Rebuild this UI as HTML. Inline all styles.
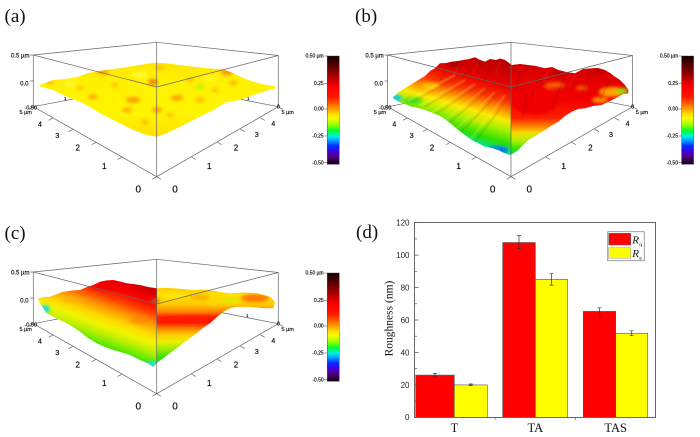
<!DOCTYPE html>
<html><head><meta charset="utf-8"><style>
html,body{margin:0;padding:0;background:#fff;}
svg{display:block;}
text{font-family:"Liberation Sans",Arial,sans-serif;}
.serif{font-family:"Liberation Serif","Times New Roman",serif;}
.afm text{fill:#111;stroke:#111;stroke-width:0.18;}
</style></head><body>
<svg width="700" height="437" viewBox="0 0 700 437" xmlns="http://www.w3.org/2000/svg">
<defs>
<linearGradient id="cb" x1="0" y1="0" x2="0" y2="1">
<stop offset="0" stop-color="#140000"/><stop offset="0.08" stop-color="#500000"/><stop offset="0.16" stop-color="#900000"/><stop offset="0.24" stop-color="#d80000"/><stop offset="0.29" stop-color="#ff0000"/><stop offset="0.38" stop-color="#ff1800"/><stop offset="0.44" stop-color="#ff6000"/><stop offset="0.49" stop-color="#ffa000"/><stop offset="0.54" stop-color="#ffe000"/><stop offset="0.58" stop-color="#f0ff00"/><stop offset="0.64" stop-color="#90ff00"/><stop offset="0.69" stop-color="#00ff30"/><stop offset="0.74" stop-color="#00f0e0"/><stop offset="0.78" stop-color="#00a0ff"/><stop offset="0.83" stop-color="#0030ff"/><stop offset="0.88" stop-color="#4000e0"/><stop offset="0.93" stop-color="#500080"/><stop offset="1" stop-color="#100010"/>
</linearGradient>
<filter id="bl" x="-50%" y="-50%" width="200%" height="200%"><feGaussianBlur stdDeviation="1.6"/></filter>
<filter id="bl1" x="-50%" y="-50%" width="200%" height="200%"><feGaussianBlur stdDeviation="0.8"/></filter>
<linearGradient id="ga" gradientUnits="userSpaceOnUse" x1="0" y1="62" x2="0" y2="137">
<stop offset="0" stop-color="#ffe600"/><stop offset="0.3" stop-color="#fff200"/><stop offset="0.7" stop-color="#fff400"/><stop offset="1" stop-color="#ffe000"/>
</linearGradient>
<linearGradient id="gbl" gradientUnits="userSpaceOnUse" x1="470" y1="55" x2="441.3" y2="150.8">
<stop offset="0" stop-color="#c00000"/><stop offset="0.2" stop-color="#e80000"/><stop offset="0.33" stop-color="#ff3000"/><stop offset="0.43" stop-color="#ff9000"/><stop offset="0.52" stop-color="#ffe800"/><stop offset="0.62" stop-color="#a8f000"/><stop offset="0.74" stop-color="#30e000"/><stop offset="0.84" stop-color="#00e0a0"/><stop offset="0.9" stop-color="#00b8ff"/><stop offset="0.97" stop-color="#0050ff"/>
</linearGradient>
<linearGradient id="gbr" gradientUnits="userSpaceOnUse" x1="0" y1="58" x2="0" y2="155">
<stop offset="0" stop-color="#c40000"/><stop offset="0.18" stop-color="#e00000"/><stop offset="0.43" stop-color="#f20000"/><stop offset="0.62" stop-color="#ff2000"/><stop offset="0.7" stop-color="#ff8000"/><stop offset="0.77" stop-color="#ffd800"/><stop offset="0.85" stop-color="#b0f000"/><stop offset="0.93" stop-color="#40e000"/><stop offset="1" stop-color="#00d080"/>
</linearGradient>
<linearGradient id="gcl" gradientUnits="userSpaceOnUse" x1="110" y1="275" x2="77" y2="369">
<stop offset="0" stop-color="#d00000"/><stop offset="0.12" stop-color="#ff0000"/><stop offset="0.22" stop-color="#ff4000"/><stop offset="0.32" stop-color="#ff9800"/><stop offset="0.42" stop-color="#ffd800"/><stop offset="0.5" stop-color="#f0f400"/><stop offset="0.58" stop-color="#c0f000"/><stop offset="0.66" stop-color="#70ea00"/><stop offset="0.74" stop-color="#20e000"/><stop offset="0.82" stop-color="#00e0a0"/><stop offset="0.9" stop-color="#00d0ff"/>
</linearGradient>
<linearGradient id="gcr" gradientUnits="userSpaceOnUse" x1="0" y1="285" x2="0" y2="367">
<stop offset="0" stop-color="#ffc000"/><stop offset="0.12" stop-color="#ffe000"/><stop offset="0.24" stop-color="#ffc800"/><stop offset="0.33" stop-color="#ff8000"/><stop offset="0.39" stop-color="#ff2000"/><stop offset="0.46" stop-color="#ff1800"/><stop offset="0.53" stop-color="#ff8000"/><stop offset="0.61" stop-color="#ffd000"/><stop offset="0.695" stop-color="#e8f000"/><stop offset="0.79" stop-color="#90ec00"/><stop offset="0.89" stop-color="#30e000"/><stop offset="1" stop-color="#00e0c0"/>
</linearGradient>
<clipPath id="sa"><polygon points="40,85 53.3,80 65,79 76.7,77.3 88,73 100,70.7 110,69.5 120,68.3 130,66.5 140,65 153.3,62.7 166.7,63.3 186.7,66 206.7,68.3 220,69 226.7,70.7 233,73 240,76.7 253.3,81.7 266.7,85 275,86 275,88.3 263.3,91.7 253.3,95 240,100 226.7,102 213.3,110 196.7,118.3 180,126.7 166.7,133.3 156.7,136.7 146.7,135 133.3,130 116.7,121.7 100,113.3 83.3,103.3 66.7,96.7 53.3,90 40,86.5"/></clipPath>
<clipPath id="sb"><polygon points="393.3,96.7 399,92 405,88.3 412,84 418.3,80 425,76 430,71 435,68.3 440,63.3 446,63 451.7,61.7 458,61 463,60 468.3,59.3 475,57.3 480,60 485,61.7 490,59 496,60 500,58.5 505,60 511.7,65 520,64 528.3,65 536,66 545,68.3 552,67 558.3,70 566,72 575,73.3 583,69 591.7,68.3 598,68 605,70 610,73 615,76.7 620,80 625,85 628.3,90 628.3,93.3 623,94 618.3,96.7 610,101 601.7,105 593,106 585,108.3 578,109 571.7,111.7 565,116 558.3,121.7 551,126 545,130 537,135 528.3,140 523,145 518.3,150 514,153 510,155 504,153 498.3,150 492,148 485,146.7 478,143 471.7,140 465,135 458.3,130 450,123 441.7,116.7 433,113 425,110 418,108 411.7,106.7 405,104 398.3,101.7 393.3,98.3"/></clipPath>
<clipPath id="sc"><polygon points="38.3,298.3 44,297 50,296.7 57,294 63.3,291.7 72,290.5 80,290 87,287 93.3,285 100,281.7 106,280.5 113.3,280 120,281.5 126.7,283.3 133,284 140,285 148,287 156.7,288.3 165,288 173.3,288.3 183,289 193.3,290 202,289.5 210,290 220,292 230,293.3 243,292.5 256.7,293.3 264,295 270,296.7 275,301.7 273.3,308.3 263.3,308.3 253,307 243.3,306.7 236,307 230,308.3 223.3,311.7 217,317 210,323.3 203,328 196.7,333.3 186,341 176.7,348.3 170,353 163.3,358.3 158,362 153.3,366.7 147,363 140,360 135,357.5 130,355 122,352.5 113.3,350 105,347 96.7,343.3 88,338 80,331.7 73,327 66.7,323.3 60,320 53.3,316.7 46.7,313.3 43,308 40,303.3 38.3,300"/></clipPath>
</defs>

<rect width="700" height="437" fill="#fff"/>

<text class="serif" x="4.5" y="22" font-size="19" fill="#111">(a)</text>
<text class="serif" x="355" y="22" font-size="19" fill="#111">(b)</text>
<text class="serif" x="4.5" y="239" font-size="19" fill="#111">(c)</text>
<text class="serif" x="356" y="238" font-size="19" fill="#111">(d)</text>

<!-- ============ PANEL A ============ -->
<g class="afm">
<g stroke="#666" stroke-width="0.7" fill="none">
<path d="M33.3,55 L156.7,42.3 L278.3,55.5 M33.3,106.7 L156.7,83 L278.3,106.7"/>
</g>
<text x="64" y="100" font-size="4.5">1</text>
<text x="247" y="100" font-size="4.5">1</text>
</g>
<g clip-path="url(#sa)">
<rect x="30" y="55" width="250" height="90" fill="url(#ga)"/>
<g filter="url(#bl)" opacity="0.85">
<ellipse cx="103" cy="72" rx="6" ry="2.5" fill="#ff9a00"/>
<ellipse cx="153" cy="82" rx="5" ry="3" fill="#f07000"/>
<ellipse cx="133" cy="100" rx="7" ry="3" fill="#ff9000"/>
<ellipse cx="93" cy="97" rx="5" ry="2.5" fill="#ffa000"/>
<ellipse cx="177" cy="98" rx="6" ry="3" fill="#ff9a00"/>
<ellipse cx="227" cy="72" rx="6" ry="3" fill="#ff8000"/>
<ellipse cx="233" cy="83" rx="4" ry="2" fill="#ffa000"/>
<ellipse cx="50" cy="82" rx="4" ry="2" fill="#ffa800"/>
<ellipse cx="157" cy="110" rx="5" ry="3" fill="#ff9800"/>
<ellipse cx="127" cy="110" rx="5" ry="2.5" fill="#ffa000"/>
<ellipse cx="200" cy="100" rx="5" ry="2.5" fill="#ffb000"/>
<ellipse cx="115" cy="85" rx="4" ry="2" fill="#ffb000"/>
<ellipse cx="190" cy="80" rx="4" ry="2" fill="#ffb000"/>
<ellipse cx="145" cy="122" rx="4" ry="2" fill="#ffb000"/>
<ellipse cx="170" cy="115" rx="4" ry="2" fill="#ffb000"/>
<ellipse cx="80" cy="88" rx="4" ry="2" fill="#ffb800"/>
<ellipse cx="215" cy="90" rx="4" ry="2" fill="#ffb800"/>
<ellipse cx="160" cy="68" rx="5" ry="2" fill="#ffb000"/>
<ellipse cx="200" cy="87" rx="4" ry="3" fill="#b8f000"/>
<ellipse cx="70" cy="84" rx="6" ry="2" fill="#ffff50"/>
<ellipse cx="140" cy="75" rx="8" ry="3" fill="#ffff40"/>
<ellipse cx="210" cy="78" rx="7" ry="2" fill="#ffff40"/>
</g>
</g>
<g class="afm">
<g stroke="#666" stroke-width="0.7" fill="none">
<path d="M33.3,55 L156.7,87 L278.3,55.5 M156.7,42.3 L156.7,176.7 M33.3,55 L33.3,106.7 L156.7,176.7 L278.3,106.7 L278.3,55.5"/>
<path d="M156.7,176.7 l-4.35,2.45 M122,157 l-4.35,2.45 M96,142.3 l-4.35,2.45 M73,129.2 l-4.35,2.45 M53,117.9 l-4.35,2.45 M33.3,106.7 l-4.35,2.45 M156.7,176.7 l4.35,2.45 M191.4,157 l4.35,2.45 M217.4,142.3 l4.35,2.45 M240.4,129.2 l4.35,2.45 M260.4,117.9 l4.35,2.45 M278.3,106.7 l4.35,2.45 M33.3,55 l-3,0 M33.3,81 l-3,0 M33.3,106.7 l-3,0"/>
</g>
<text x="29.5" y="57.5" font-size="6" text-anchor="end">0.5 µm</text>
<text x="28.5" y="85.5" font-size="6" text-anchor="end">0.0</text>
<text x="37" y="109.5" font-size="5.5" text-anchor="end">-0.50</text>
<text x="19.5" y="114" font-size="5.5">5 µm</text>
<text x="40" y="126.5" font-size="7" text-anchor="middle">4</text>
<text x="57.3" y="137.8" font-size="7.5" text-anchor="middle">3</text>
<text x="77.7" y="150.7" font-size="8" text-anchor="middle">2</text>
<text x="104.3" y="168.8" font-size="8.5" text-anchor="middle">1</text>
<text x="138.3" y="192.7" font-size="10" text-anchor="middle">0</text>
<text x="175" y="192.7" font-size="10" text-anchor="middle">0</text>
<text x="209.3" y="168.8" font-size="8.5" text-anchor="middle">1</text>
<text x="236" y="150.7" font-size="8" text-anchor="middle">2</text>
<text x="256.7" y="137" font-size="7.5" text-anchor="middle">3</text>
<text x="273.3" y="125.8" font-size="7" text-anchor="middle">4</text>
<text x="281.5" y="114" font-size="5.5">5 µm</text>
<text x="278.3" y="108.5" font-size="5.5" text-anchor="middle">0</text>
<rect x="327.3" y="56" width="12" height="108.3" fill="url(#cb)" stroke="#333" stroke-width="0.4"/>
<path d="M324.3,56 h3 M324.3,83.3 h3 M324.3,109 h3 M324.3,136 h3 M324.3,162.7 h3" stroke="#444" stroke-width="0.5"/>
<g font-size="5" text-anchor="end">
<text x="323.7" y="57.7">0.50 µm</text>
<text x="323.7" y="85">0.25</text>
<text x="323.7" y="110.7">0.00</text>
<text x="323.7" y="137.7">-0.25</text>
<text x="323.7" y="164.4">-0.50</text>
</g>
</g>

<!-- ============ PANEL B ============ -->
<g transform="translate(354.3,0)">
<g stroke="#666" stroke-width="0.7" fill="none">
<path d="M33.3,55 L156.7,42.3 L278.3,55.5 M33.3,106.7 L156.7,83 L278.3,106.7"/>
</g>
</g>
<g clip-path="url(#sb)">
<rect x="511" y="50" width="125" height="110" fill="url(#gbr)"/>
<rect x="385" y="50" width="126" height="110" fill="url(#gbl)"/>
<g filter="url(#bl)">
<ellipse cx="455" cy="64" rx="8" ry="4" fill="#b00000"/>
<ellipse cx="480" cy="62" rx="6" ry="3" fill="#b40000"/>
<ellipse cx="505" cy="64" rx="5" ry="3" fill="#b80000"/>
<ellipse cx="560" cy="73" rx="8" ry="3" fill="#c00000"/>
<ellipse cx="598" cy="72" rx="6" ry="3" fill="#c00000"/>
<ellipse cx="396" cy="98" rx="6" ry="3" fill="#00c8ff"/>
<ellipse cx="413" cy="101" rx="10" ry="4" fill="#40e020" opacity="0.8"/>
<ellipse cx="430" cy="86" rx="9" ry="3.5" fill="#ffd000" opacity="0.8"/>
<ellipse cx="535" cy="100" rx="24" ry="15" fill="#f00000"/>
<ellipse cx="612" cy="92" rx="13" ry="5" fill="#ffa000"/>
<ellipse cx="622" cy="91" rx="6" ry="3" fill="#90e000"/>
<ellipse cx="600" cy="100" rx="8" ry="3" fill="#ffd000" opacity="0.7"/>
<ellipse cx="555" cy="85" rx="10" ry="3" fill="#ffa000" opacity="0.6"/>
<ellipse cx="498" cy="150" rx="10" ry="4" fill="#0060ff" opacity="0.8"/>
<ellipse cx="480" cy="120" rx="8" ry="3" fill="#ffe000" opacity="0.5"/>
<ellipse cx="530" cy="138" rx="9" ry="4" fill="#c0f000" opacity="0.7"/>
<ellipse cx="582" cy="88" rx="6" ry="2.5" fill="#ff9000" opacity="0.6"/>
</g>
<g filter="url(#bl1)" fill="none">
<g stroke="#fff870" stroke-width="1.4" opacity="0.35">
<path d="M505,95 L470,140 M495,92 L455,130 M485,88 L445,120 M475,84 L432,112 M465,80 L420,105 M455,75 L408,100"/>
</g>
<g stroke="#204000" stroke-width="0.9" opacity="0.3">
<path d="M508,98 L473,145 M498,94 L459,134 M488,90 L449,123 M478,86 L436,114 M468,82 L424,107 M458,77 L412,102"/>
</g>
<g stroke="#800000" stroke-width="0.9" opacity="0.4">
<path d="M470,66 L462,80 M490,66 L484,82 M520,70 L516,92 M540,74 L530,100 M565,76 L552,108 M590,74 L580,98 M610,80 L600,100 M448,66 L440,80 M528,90 L522,120"/>
</g>
<g stroke="#ff5050" stroke-width="0.8" opacity="0.35">
<path d="M460,63 L454,74 M478,61 L474,72 M500,62 L496,74 M548,71 L544,82 M575,75 L568,88"/>
</g>
</g>
</g>
<g transform="translate(354.3,0)" class="afm">
<g stroke="#666" stroke-width="0.7" fill="none">
<path d="M33.3,55 L156.7,87 L278.3,55.5 M156.7,42.3 L156.7,176.7 M33.3,55 L33.3,106.7 L156.7,176.7 L278.3,106.7 L278.3,55.5"/>
<path d="M156.7,176.7 l-4.35,2.45 M122,157 l-4.35,2.45 M96,142.3 l-4.35,2.45 M73,129.2 l-4.35,2.45 M53,117.9 l-4.35,2.45 M33.3,106.7 l-4.35,2.45 M156.7,176.7 l4.35,2.45 M191.4,157 l4.35,2.45 M217.4,142.3 l4.35,2.45 M240.4,129.2 l4.35,2.45 M260.4,117.9 l4.35,2.45 M278.3,106.7 l4.35,2.45 M33.3,55 l-3,0 M33.3,81 l-3,0 M33.3,106.7 l-3,0"/>
</g>
<text x="29.5" y="57.5" font-size="6" text-anchor="end">0.5 µm</text>
<text x="28.5" y="85.5" font-size="6" text-anchor="end">0.0</text>
<text x="37" y="109.5" font-size="5.5" text-anchor="end">-0.50</text>
<text x="19.5" y="114" font-size="5.5">5 µm</text>
<text x="40" y="126.5" font-size="7" text-anchor="middle">4</text>
<text x="57.3" y="137.8" font-size="7.5" text-anchor="middle">3</text>
<text x="77.7" y="150.7" font-size="8" text-anchor="middle">2</text>
<text x="104.3" y="168.8" font-size="8.5" text-anchor="middle">1</text>
<text x="138.3" y="192.7" font-size="10" text-anchor="middle">0</text>
<text x="175" y="192.7" font-size="10" text-anchor="middle">0</text>
<text x="209.3" y="168.8" font-size="8.5" text-anchor="middle">1</text>
<text x="236" y="150.7" font-size="8" text-anchor="middle">2</text>
<text x="256.7" y="137" font-size="7.5" text-anchor="middle">3</text>
<text x="273.3" y="125.8" font-size="7" text-anchor="middle">4</text>
<text x="281.5" y="114" font-size="5.5">5 µm</text>
<text x="278.3" y="108.5" font-size="5.5" text-anchor="middle">0</text>
<rect x="327.3" y="56" width="12" height="108.3" fill="url(#cb)" stroke="#333" stroke-width="0.4"/>
<path d="M324.3,56 h3 M324.3,83.3 h3 M324.3,109 h3 M324.3,136 h3 M324.3,162.7 h3" stroke="#444" stroke-width="0.5"/>
<g font-size="5" text-anchor="end">
<text x="323.7" y="57.7">0.50 µm</text>
<text x="323.7" y="85">0.25</text>
<text x="323.7" y="110.7">0.00</text>
<text x="323.7" y="137.7">-0.25</text>
<text x="323.7" y="164.4">-0.50</text>
</g>
</g>

<!-- ============ PANEL C ============ -->
<g transform="translate(0,217)" class="afm">
<g stroke="#666" stroke-width="0.7" fill="none">
<path d="M33.3,55 L156.7,42.3 L278.3,55.5 M33.3,106.7 L156.7,83 L278.3,106.7"/>
</g>
<text x="64" y="100" font-size="4.5">1</text>
<text x="246" y="100" font-size="4.5">1</text>
</g>
<g clip-path="url(#sc)">
<rect x="156.7" y="275" width="125" height="100" fill="url(#gcr)"/>
<rect x="30" y="275" width="126.7" height="100" fill="url(#gcl)"/>
<g filter="url(#bl)">
<ellipse cx="45" cy="309" rx="5" ry="4" fill="#20e0d0"/>
<ellipse cx="152" cy="364" rx="6" ry="3" fill="#20e0e0"/>
<ellipse cx="110" cy="287" rx="20" ry="4" fill="#f00000" opacity="0.7"/>
<ellipse cx="155" cy="301" rx="4" ry="3" fill="#c06000" opacity="0.8"/>
<ellipse cx="192" cy="319" rx="26" ry="3" fill="#ff1000" opacity="0.6"/>
<ellipse cx="255" cy="298" rx="14" ry="4" fill="#ff6000" opacity="0.8"/>
<ellipse cx="230" cy="301" rx="10" ry="3" fill="#d8f000" opacity="0.8"/>
<ellipse cx="200" cy="297" rx="10" ry="3" fill="#ffa000" opacity="0.7"/>
<ellipse cx="175" cy="296" rx="10" ry="3" fill="#ffe800" opacity="0.8"/>
<ellipse cx="140" cy="320" rx="10" ry="4" fill="#ff8000" opacity="0.6"/>
<ellipse cx="70" cy="300" rx="8" ry="3" fill="#ffb000" opacity="0.6"/>
<ellipse cx="215" cy="303" rx="8" ry="2.5" fill="#ffe000" opacity="0.7"/>
</g>
</g>
<g transform="translate(0,217)" class="afm">
<g stroke="#666" stroke-width="0.7" fill="none">
<path d="M33.3,55 L156.7,87 L278.3,55.5 M156.7,42.3 L156.7,176.7 M33.3,55 L33.3,106.7 L156.7,176.7 L278.3,106.7 L278.3,55.5"/>
<path d="M156.7,176.7 l-4.35,2.45 M122,157 l-4.35,2.45 M96,142.3 l-4.35,2.45 M73,129.2 l-4.35,2.45 M53,117.9 l-4.35,2.45 M33.3,106.7 l-4.35,2.45 M156.7,176.7 l4.35,2.45 M191.4,157 l4.35,2.45 M217.4,142.3 l4.35,2.45 M240.4,129.2 l4.35,2.45 M260.4,117.9 l4.35,2.45 M278.3,106.7 l4.35,2.45 M33.3,55 l-3,0 M33.3,81 l-3,0 M33.3,106.7 l-3,0"/>
</g>
<text x="29.5" y="57.5" font-size="6" text-anchor="end">0.5 µm</text>
<text x="28.5" y="85.5" font-size="6" text-anchor="end">0.0</text>
<text x="37" y="109.5" font-size="5.5" text-anchor="end">-0.50</text>
<text x="19.5" y="114" font-size="5.5">5 µm</text>
<text x="40" y="126.5" font-size="7" text-anchor="middle">4</text>
<text x="57.3" y="137.8" font-size="7.5" text-anchor="middle">3</text>
<text x="77.7" y="150.7" font-size="8" text-anchor="middle">2</text>
<text x="104.3" y="168.8" font-size="8.5" text-anchor="middle">1</text>
<text x="138.3" y="192.7" font-size="10" text-anchor="middle">0</text>
<text x="175" y="192.7" font-size="10" text-anchor="middle">0</text>
<text x="209.3" y="168.8" font-size="8.5" text-anchor="middle">1</text>
<text x="236" y="150.7" font-size="8" text-anchor="middle">2</text>
<text x="256.7" y="137" font-size="7.5" text-anchor="middle">3</text>
<text x="273.3" y="125.8" font-size="7" text-anchor="middle">4</text>
<text x="281.5" y="114" font-size="5.5">5 µm</text>
<text x="278.3" y="108.5" font-size="5.5" text-anchor="middle">0</text>
<rect x="327.3" y="56" width="12" height="108.3" fill="url(#cb)" stroke="#333" stroke-width="0.4"/>
<path d="M324.3,56 h3 M324.3,83.3 h3 M324.3,109 h3 M324.3,136 h3 M324.3,162.7 h3" stroke="#444" stroke-width="0.5"/>
<g font-size="5" text-anchor="end">
<text x="323.7" y="57.7">0.50 µm</text>
<text x="323.7" y="85">0.25</text>
<text x="323.7" y="110.7">0.00</text>
<text x="323.7" y="137.7">-0.25</text>
<text x="323.7" y="164.4">-0.50</text>
</g>
</g>

<!-- ============ PANEL D (bar chart) ============ -->
<g stroke="#555" stroke-width="0.6">
<rect x="415.7" y="375.1" width="38.6" height="42.2" fill="#ff0000"/>
<rect x="454.3" y="384.9" width="33" height="32.4" fill="#ffff00"/>
<rect x="502.7" y="242.5" width="32.6" height="174.8" fill="#ff0000"/>
<rect x="535.3" y="279.4" width="32.4" height="137.9" fill="#ffff00"/>
<rect x="583.3" y="311.4" width="32.4" height="105.9" fill="#ff0000"/>
<rect x="615.7" y="333.3" width="32" height="84" fill="#ffff00"/>
</g>
<g stroke="#333" stroke-width="0.7" fill="none">
<path d="M435,373.5 V376.8 M433,373.5 h4 M433,376.8 h4"/>
<path d="M470.8,384 V385.7 M468.8,384 h4 M468.8,385.7 h4"/>
<path d="M519,235.6 V248.6 M517,235.6 h4 M517,248.6 h4"/>
<path d="M551.5,273.7 V285.1 M549.5,273.7 h4 M549.5,285.1 h4"/>
<path d="M599.5,307.8 V315.1 M597.5,307.8 h4 M597.5,315.1 h4"/>
<path d="M631.7,330.8 V335.7 M629.7,330.8 h4 M629.7,335.7 h4"/>
</g>
<rect x="414.5" y="222.5" width="241" height="195" fill="none" stroke="#666" stroke-width="1"/>
<g stroke="#555" stroke-width="0.7">
<path d="M414.5,417.3 h4 M414.5,384.9 h4 M414.5,352.4 h4 M414.5,320 h4 M414.5,287.5 h4 M414.5,255.1 h4 M414.5,222.7 h4"/>
<path d="M414.5,401.1 h2.5 M414.5,368.6 h2.5 M414.5,336.2 h2.5 M414.5,303.8 h2.5 M414.5,271.3 h2.5 M414.5,238.9 h2.5"/>
<path d="M495,417.3 v2.5 M575.5,417.3 v2.5"/>
</g>
<g font-size="8" fill="#222" text-anchor="end">
<text x="409.5" y="420.2">0</text>
<text x="409.5" y="387.8">20</text>
<text x="409.5" y="355.3">40</text>
<text x="409.5" y="322.9">60</text>
<text x="409.5" y="290.4">80</text>
<text x="409.5" y="258">100</text>
<text x="409.5" y="225.6">120</text>
</g>
<g font-size="12.5" fill="#111" text-anchor="middle">
<text class="serif" x="454.5" y="432">T</text>
<text class="serif" x="535.3" y="432">TA</text>
<text class="serif" x="615.7" y="432">TAS</text>
</g>
<text class="serif" transform="translate(392.5,318.5) rotate(-90)" text-anchor="middle" font-size="11.5" fill="#111">Roughness (nm)</text>
<rect x="607.7" y="231.7" width="36.6" height="29" fill="#fff" stroke="#888" stroke-width="0.8"/>
<rect x="608.7" y="233.3" width="22" height="11.7" fill="#ff0000" stroke="#666" stroke-width="0.5"/>
<rect x="608.7" y="247.7" width="22" height="10.6" fill="#ffff00" stroke="#999" stroke-width="0.5"/>
<text class="serif" x="632.3" y="243.3" font-size="11" font-style="italic" fill="#111">R</text>
<text class="serif" x="639.2" y="246" font-size="5.5" fill="#111">q</text>
<text class="serif" x="632.3" y="256.8" font-size="11" font-style="italic" fill="#111">R</text>
<text class="serif" x="639.2" y="259.3" font-size="5.5" fill="#111">a</text>
</svg>
</body></html>
